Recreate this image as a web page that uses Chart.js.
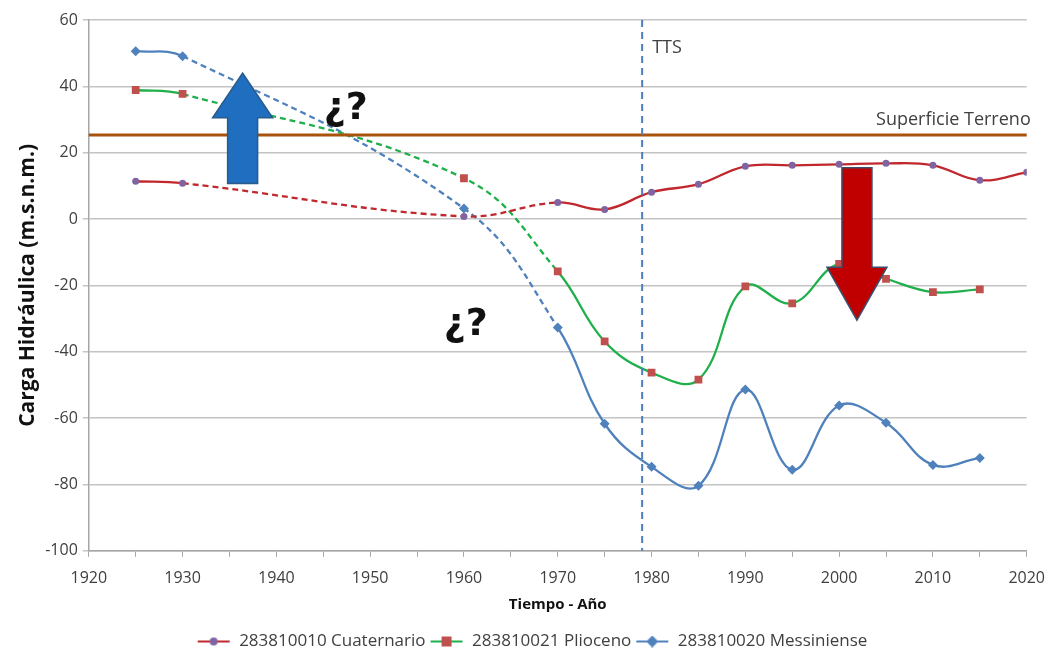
<!DOCTYPE html>
<html lang="es">
<head>
    <meta charset="UTF-8">
    <title>Carga Hidráulica</title>
    <script src="https://cdn.jsdelivr.net/npm/chart.js"></script>
    <style>
        html, body { margin: 0; padding: 0; background: #fff; }
        #wrap { width: 1057px; height: 652px; }
    </style>
</head>
<body>
<div id="wrap"><canvas id="chart"></canvas></div>
<script>
    // data
    const years = [1925, 1930, 1960, 1970, 1975, 1980, 1985, 1990, 1995, 2000, 2005, 2010, 2015, 2020];
    const cuaternario = [11.4, 10.8, 0.8, 5.0, 2.9, 8.1, 10.5, 15.9, 16.2, 16.5, 16.8, 16.2, 11.7, 14.1];
    const plioceno = [38.9, 37.7, 12.3, -15.8, -36.9, -46.3, -48.4, -20.3, -25.4, -13.5, -18.0, -22.0, -21.2, null];
    const messiniense = [50.6, 49.1, 3.2, -32.7, -61.7, -74.7, -80.4, -51.4, -75.6, -56.2, -61.4, -74.1, -72.0, null];
    const seriesNames = ['283810010 Cuaternario', '283810021 Plioceno', '283810020 Messiniense'];
    const xTicks = [1920, 2020, 10];
    const yTicks = [-100, 60, 20];
    const superficieTerreno = 25.3;
    const ttsYear = 1979;

    const fontFam = "'Liberation Sans Narrow', 'Open Sans', sans-serif";
    const gray = '#404040';

    function pts(vals) {
        return years.map((y, i) => ({ x: y, y: vals[i] })).filter(p => p.y !== null);
    }

    // early part of each record is dashed (1930-1970)
    const dashed = ctx => (ctx.p0.parsed.x >= 1930 && ctx.p1.parsed.x <= 1970) ? [6, 4] : undefined;

    function legendIcon(lineColor, markColor, shape) {
        const c = document.createElement('canvas');
        c.width = 34; c.height = 12;
        const g = c.getContext('2d');
        g.strokeStyle = lineColor; g.lineWidth = 2;
        g.beginPath(); g.moveTo(1, 6); g.lineTo(33, 6); g.stroke();
        g.fillStyle = markColor;
        g.beginPath();
        if (shape === 'rect') g.rect(12, 1, 10, 10);
        else if (shape === 'diamond') { g.moveTo(17, 0); g.lineTo(23, 6); g.lineTo(17, 12); g.lineTo(11, 6); g.closePath(); }
        else g.arc(17, 6, 4, 0, Math.PI * 2);
        g.fill();
        return c;
    }
    const icons = [
        legendIcon('#c0282d', '#8064a2', 'circle'),
        legendIcon('#1faf4b', '#c0504d', 'rect'),
        legendIcon('#4f81bd', '#4f81bd', 'diamond')
    ];

    function arrow(g, sx, tail, head, tip, shaftW, headW, fill, stroke) {
        g.beginPath();
        g.moveTo(sx - shaftW, tail);
        g.lineTo(sx - shaftW, head);
        g.lineTo(sx - headW, head);
        g.lineTo(sx, tip);
        g.lineTo(sx + headW, head);
        g.lineTo(sx + shaftW, head);
        g.lineTo(sx + shaftW, tail);
        g.closePath();
        g.fillStyle = fill; g.fill();
        g.strokeStyle = stroke; g.lineWidth = 1.5; g.stroke();
    }

    const overlay = {
        id: 'overlay',
        afterDatasetsDraw(chart) {
            const g = chart.ctx, xs = chart.scales.x, ys = chart.scales.y, a = chart.chartArea;
            g.save();
            // Superficie Terreno
            const yS = ys.getPixelForValue(superficieTerreno);
            g.strokeStyle = '#a8520c'; g.lineWidth = 3;
            g.beginPath(); g.moveTo(a.left, yS); g.lineTo(a.right, yS); g.stroke();
            g.fillStyle = gray; g.font = "18px " + fontFam; g.textAlign = 'right'; g.textBaseline = 'bottom';
            g.fillText('Superficie Terreno', a.right + 4, yS - 6);
            // TTS
            const xT = xs.getPixelForValue(ttsYear);
            g.strokeStyle = '#4a7ebd'; g.lineWidth = 2; g.setLineDash([7, 5]);
            g.beginPath(); g.moveTo(xT, a.top); g.lineTo(xT, a.bottom); g.stroke();
            g.setLineDash([]);
            g.textAlign = 'left'; g.textBaseline = 'middle';
            g.fillText('TTS', xT + 10, ys.getPixelForValue(51.5));
            // arrows
            arrow(g, xs.getPixelForValue(1936.4), ys.getPixelForValue(10.7), ys.getPixelForValue(30.5),
                ys.getPixelForValue(44), 15, 30, '#1f6ebf', '#2a5a8a');
            arrow(g, xs.getPixelForValue(2001.9), ys.getPixelForValue(15.5), ys.getPixelForValue(-14.5),
                ys.getPixelForValue(-30.5), 15, 30, '#c00000', '#3a4f6e');
            // question marks
            g.fillStyle = '#111'; g.font = "bold 38px 'DejaVu Sans', sans-serif"; g.textAlign = 'center';
            g.fillText('¿?', xs.getPixelForValue(1947.4), ys.getPixelForValue(33));
            g.fillText('¿?', xs.getPixelForValue(1960.2), ys.getPixelForValue(-32));
            g.restore();
        }
    };

    new Chart(document.getElementById('chart'), {
        type: 'line',
        data: {
            datasets: [
                {
                    label: seriesNames[0], data: pts(cuaternario),
                    borderColor: '#c0282d', backgroundColor: '#8064a2',
                    pointStyle: 'circle', pointRadius: 3.5, pointBorderWidth: 0,
                    segment: { borderDash: dashed }
                },
                {
                    label: seriesNames[1], data: pts(plioceno),
                    borderColor: '#1faf4b', backgroundColor: '#c0504d',
                    pointStyle: 'rect', pointRadius: 5.5, pointBorderWidth: 0,
                    segment: { borderDash: dashed }
                },
                {
                    label: seriesNames[2], data: pts(messiniense),
                    borderColor: '#4f81bd', backgroundColor: '#4f81bd',
                    pointStyle: 'rectRot', pointRadius: 5, pointBorderWidth: 0,
                    segment: { borderDash: dashed }
                }
            ]
        },
        options: {
            responsive: true,
            maintainAspectRatio: false,
            animation: false,
            elements: { line: { tension: 0.4, borderWidth: 2.3, fill: false } },
            layout: { padding: { top: 20, right: 8, left: 15, bottom: -8 } },
            plugins: {
                legend: {
                    position: 'bottom',
                    labels: {
                        usePointStyle: true,
                        pointStyleWidth: 34,
                        padding: 4,
                        boxPadding: 4,
                        color: gray,
                        font: { family: fontFam, size: 17 },
                        generateLabels(chart) {
                            const items = Chart.defaults.plugins.legend.labels.generateLabels(chart);
                            items.forEach((it, i) => { it.pointStyle = icons[i]; });
                            return items;
                        }
                    }
                },
                tooltip: { enabled: false }
            },
            scales: {
                x: {
                    type: 'linear', min: xTicks[0], max: xTicks[1],
                    ticks: {
                        stepSize: 5, color: gray, maxRotation: 0, autoSkip: false, padding: 12,
                        font: { family: fontFam, size: 16 },
                        callback: v => v % xTicks[2] === 0 ? v : ''
                    },
                    grid: { drawOnChartArea: false, color: '#a6a6a6', tickLength: 6 },
                    border: { color: '#a6a6a6', width: 1.5 },
                    title: { display: true, text: 'Tiempo - Año', color: '#111', font: { family: fontFam, size: 15, weight: 'bold' }, padding: { top: -4, bottom: 15 } }
                },
                y: {
                    min: yTicks[0], max: yTicks[1],
                    ticks: { stepSize: yTicks[2], color: gray, font: { family: fontFam, size: 16 }, padding: 5 },
                    grid: { color: '#c4c4c4', lineWidth: 1.5, tickLength: 6 },
                    border: { color: '#a6a6a6', width: 1.5 },
                    title: { display: true, text: 'Carga Hidráulica (m.s.n.m.)', color: '#111', font: { family: "'Open Sans', sans-serif", size: 21, weight: 'bold' }, padding: { top: 0, bottom: 0 } }
                }
            }
        },
        plugins: [overlay]
    });
</script>
</body>
</html>
